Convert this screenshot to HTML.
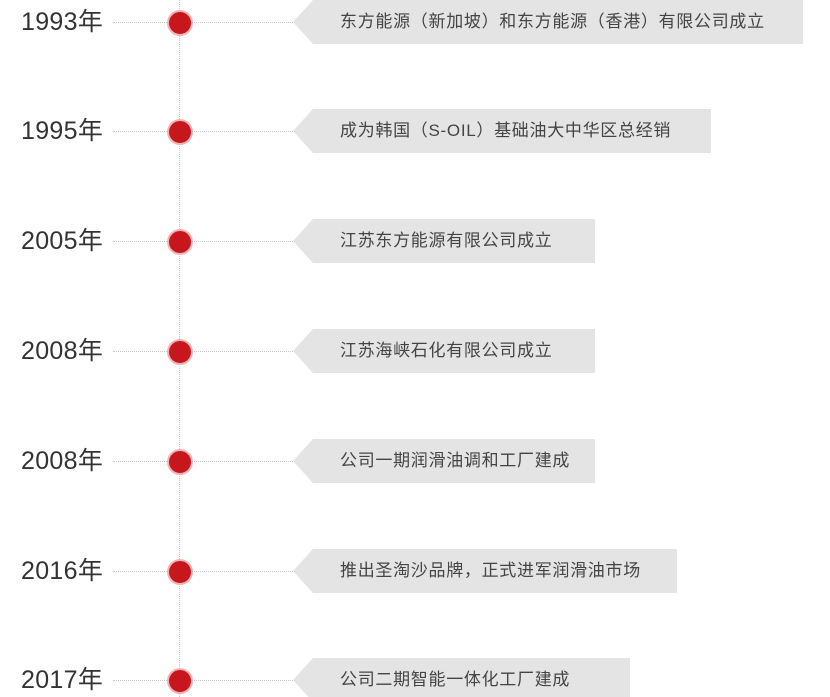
<!DOCTYPE html>
<html><head><meta charset="utf-8"><style>
html,body{margin:0;padding:0;background:#fff;width:830px;height:697px;overflow:hidden;position:relative}
.vl{position:absolute;left:179px;top:0;height:697px;border-left:1px dotted #c8c8c8}
.hl{position:absolute;left:113px;width:182px;border-top:1px dotted #c8c8c8}
.yr{position:absolute;left:21px;font:25px "Liberation Sans","Noto Sans CJK SC",sans-serif;line-height:30px;color:#333;letter-spacing:0.3px}
.dot{position:absolute;left:167px;width:22px;height:22px;border-radius:50%;background:#c8161d;border:2px solid #f0b4b6;box-sizing:content-box}
.box{position:absolute;left:293px;height:44px;background:#e4e4e4;clip-path:polygon(20px 0,100% 0,100% 100%,20px 100%,0 50%)}
.box span{position:absolute;left:47px;top:0;font:17px "Liberation Sans","Noto Sans CJK SC",sans-serif;line-height:44px;color:#444;letter-spacing:0.7px;white-space:nowrap}
</style></head><body>
<div class="vl"></div>

<div class="hl" style="top:22px"></div><div class="yr" style="top:7px">1993年</div><div class="dot" style="top:10px"></div>
<div class="box" style="top:0px;width:510px;"><span>东方能源（新加坡）和东方能源（香港）有限公司成立</span></div>

<div class="hl" style="top:131px"></div><div class="yr" style="top:116px">1995年</div><div class="dot" style="top:119px"></div>
<div class="box" style="top:109px;width:418px"><span>成为韩国（S-OIL）基础油大中华区总经销</span></div>

<div class="hl" style="top:241px"></div><div class="yr" style="top:226px">2005年</div><div class="dot" style="top:229px"></div>
<div class="box" style="top:219px;width:302px"><span>江苏东方能源有限公司成立</span></div>

<div class="hl" style="top:351px"></div><div class="yr" style="top:336px">2008年</div><div class="dot" style="top:339px"></div>
<div class="box" style="top:329px;width:302px"><span>江苏海峡石化有限公司成立</span></div>

<div class="hl" style="top:461px"></div><div class="yr" style="top:446px">2008年</div><div class="dot" style="top:449px"></div>
<div class="box" style="top:439px;width:302px"><span>公司一期润滑油调和工厂建成</span></div>

<div class="hl" style="top:571px"></div><div class="yr" style="top:556px">2016年</div><div class="dot" style="top:559px"></div>
<div class="box" style="top:549px;width:384px"><span>推出圣淘沙品牌，正式进军润滑油市场</span></div>

<div class="hl" style="top:680px"></div><div class="yr" style="top:665px">2017年</div><div class="dot" style="top:668px"></div>
<div class="box" style="top:658px;width:337px"><span>公司二期智能一体化工厂建成</span></div>
</body></html>
